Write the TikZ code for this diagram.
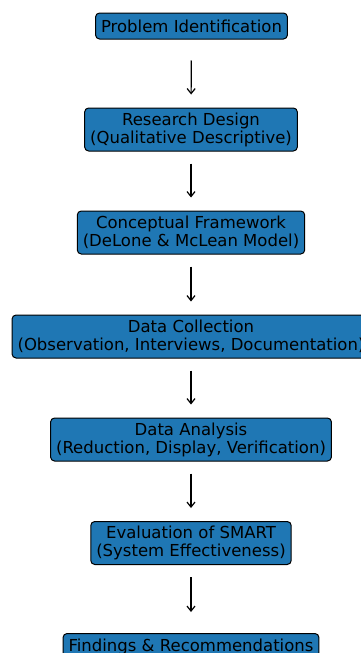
\documentclass[tikz,border=0pt]{standalone}
\usepackage{fontspec}
\setmainfont{DejaVu Sans}
\usetikzlibrary{arrows.meta}
\definecolor{boxblue}{RGB}{31,119,180}
\begin{document}
\begin{tikzpicture}[x=1pt,y=-1pt,
  stage/.style={draw=black, line width=1pt, fill=boxblue, rounded corners=4pt,
    align=center, font=\fontsize{16.5}{18}\selectfont, inner xsep=5.5pt,
    inner ysep=0pt, text=black},
  oneline/.style={stage, minimum height=26pt},
  twoline/.style={stage, minimum height=43pt},
  flow/.style={-{Straight Barb[length=5pt,width=8pt]}, line width=1.2pt}
]
\useasboundingbox (0,0) rectangle (361,653);
\clip (0,0) rectangle (361,653);

% research stages, top to bottom
\node[oneline] (s1) at (191.5,26)    {Problem Identification};
\node[twoline] (s2) at (191,129.5)   {Research Design\\(Qualitative Descriptive)};
\node[twoline] (s3) at (191,232.5)   {Conceptual Framework\\(DeLone \& McLean Model)};
\node[twoline] (s4) at (191,336.5)   {Data Collection\\(Observation, Interviews, Documentation)};
\node[twoline] (s5) at (191,439.5)   {Data Analysis\\(Reduction, Display, Verification)};
\node[twoline] (s6) at (191,543)     {Evaluation of SMART\\(System Effectiveness)};
\node[oneline] (s7) at (191,646.5)   {Findings \& Recommendations};

% flow arrows between stages
\draw[flow, shorten <=21pt, shorten >=13pt]   (s1.south) -- (s2.north);
\draw[flow, shorten <=12pt, shorten >=13pt]   (s2.south) -- (s3.north);
\draw[flow, shorten <=12pt, shorten >=13pt]   (s3.south) -- (s4.north);
\draw[flow, shorten <=12pt, shorten >=13pt]   (s4.south) -- (s5.north);
\draw[flow, shorten <=12pt, shorten >=13pt]   (s5.south) -- (s6.north);
\draw[flow, shorten <=12pt, shorten >=21pt]   (s6.south) -- (s7.north);
\end{tikzpicture}
\end{document}
